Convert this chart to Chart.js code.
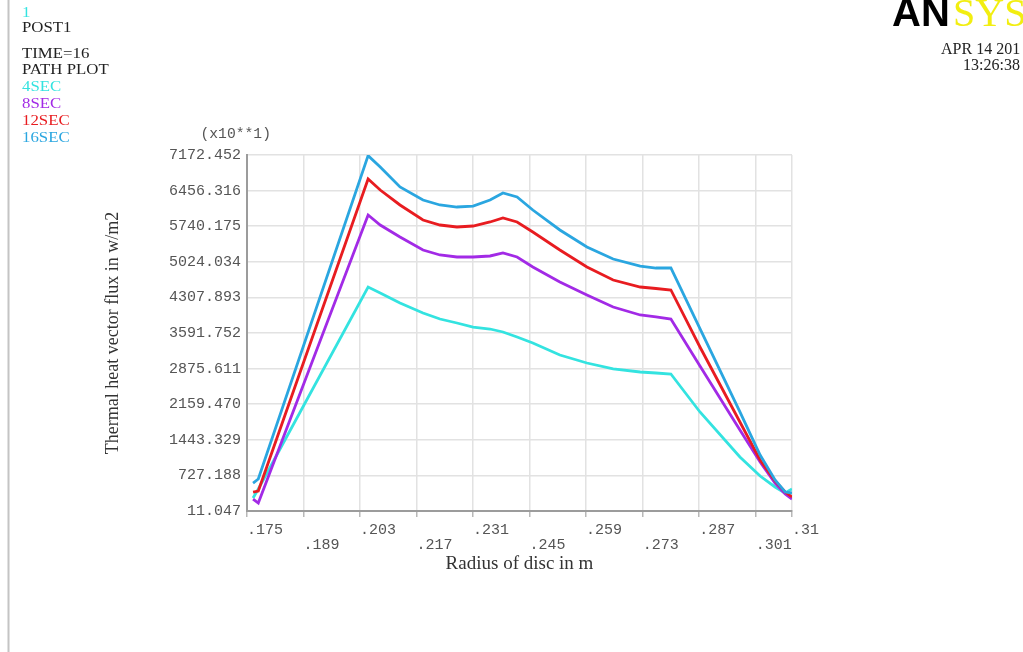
<!DOCTYPE html>
<html>
<head>
<meta charset="utf-8">
<script src="https://cdn.jsdelivr.net/npm/chart.js@4"></script>
<style>
  html, body { margin: 0; padding: 0; background: #ffffff; }
  #wrap { width: 1023px; height: 652px; }
</style>
</head>
<body>
<div id="wrap"><canvas id="c" width="1023" height="652"></canvas></div>
<script>
// Radius along the path (m)
const radius = [0.1765, 0.1778, 0.2050, 0.2080, 0.2129, 0.2186, 0.2228, 0.2270, 0.2310,
  0.2352, 0.2384, 0.2419, 0.2458, 0.2525, 0.2592, 0.2657, 0.2724, 0.2763, 0.2800,
  0.2872, 0.2971, 0.3021, 0.3058, 0.3083, 0.3100];

// Thermal heat vector flux (x10 W/m2) at each time step
const sec4 = [273, 454, 4517, 4396, 4195, 3994, 3873, 3793, 3712, 3672, 3612, 3511,
  3391, 3149, 2988, 2868, 2807, 2787, 2767, 2003, 1097, 715, 494, 373, 454];
const sec8 = [252, 172, 5965, 5764, 5523, 5261, 5161, 5121, 5121, 5141, 5201, 5121,
  4919, 4618, 4356, 4115, 3954, 3914, 3873, 2928, 1640, 997, 574, 353, 252];
const sec12 = [393, 413, 6690, 6468, 6167, 5865, 5764, 5724, 5744, 5825, 5905, 5825,
  5623, 5261, 4919, 4658, 4517, 4487, 4457, 3310, 1801, 1037, 615, 393, 293];
const sec16 = [574, 655, 7160, 6931, 6529, 6267, 6167, 6126, 6146, 6267, 6408, 6327,
  6066, 5664, 5322, 5080, 4939, 4899, 4899, 3680, 2003, 1138, 635, 393, 373];

const seriesNames = ['4SEC', '8SEC', '12SEC', '16SEC'];
const seriesColors = ['#33e3e0', '#a22ae6', '#e81c20', '#2aa6e0'];

// Axis ticks
const xTickValues = [0.175, 0.189, 0.203, 0.217, 0.231, 0.245, 0.259, 0.273, 0.287, 0.301, 0.31];
const xTickLabels = ['.175', '.189', '.203', '.217', '.231', '.245', '.259', '.273', '.287', '.301', '.31'];
const yTickValues = [11.047, 727.188, 1443.329, 2159.470, 2875.611, 3591.752, 4307.893,
  5024.034, 5740.175, 6456.316, 7172.452];
const yTickLabels = ['11.047', '727.188', '1443.329', '2159.470', '2875.611', '3591.752',
  '4307.893', '5024.034', '5740.175', '6456.316', '7172.452'];

const headerLines = [
  { text: 'POST1', color: '#222222', y: 28 },
  { text: 'TIME=16', color: '#222222', y: 54 },
  { text: 'PATH PLOT', color: '#222222', y: 70 },
  { text: seriesNames[0], color: seriesColors[0], y: 87 },
  { text: seriesNames[1], color: seriesColors[1], y: 104 },
  { text: seriesNames[2], color: seriesColors[2], y: 121 },
  { text: seriesNames[3], color: seriesColors[3], y: 138 }
];

const seriesValues = [sec4, sec8, sec12, sec16];
const datasets = seriesValues.map((vals, i) => ({
  label: seriesNames[i],
  data: radius.map((r, j) => ({ x: r, y: vals[j] })),
  borderColor: seriesColors[i],
  backgroundColor: seriesColors[i],
  borderWidth: 2.8,
  pointRadius: 0,
  tension: 0,
  fill: false,
  order: 3 - i
}));

function stretchedText(ctx, text, x, y, sx, align) {
  ctx.save();
  ctx.translate(x, y);
  ctx.scale(sx, 1);
  ctx.textAlign = align || 'left';
  ctx.fillText(text, 0, 0);
  ctx.restore();
}

const annotations = {
  id: 'annotations',
  afterDraw(chart) {
    const ctx = chart.ctx;
    const area = chart.chartArea;
    ctx.save();
    // frame line on the left
    ctx.strokeStyle = '#c4c4c4';
    ctx.lineWidth = 2;
    ctx.beginPath();
    ctx.moveTo(8.5, 0);
    ctx.lineTo(8.5, 652);
    ctx.stroke();

    ctx.textBaseline = 'middle';
    ctx.font = '15px "Liberation Serif", "Times New Roman", serif';
    ctx.fillStyle = seriesColors[0];
    stretchedText(ctx, '1', 22, 13, 1.12);
    headerLines.forEach(l => {
      ctx.fillStyle = l.color;
      stretchedText(ctx, l.text, 22, l.y, 1.12);
    });

    // logo
    ctx.textBaseline = 'alphabetic';
    ctx.font = 'bold 40px "Liberation Sans", Arial, sans-serif';
    ctx.fillStyle = '#000000';
    stretchedText(ctx, 'AN', 892, 26, 1.0);
    ctx.font = '40px "Liberation Serif", serif';
    ctx.fillStyle = '#f2ee10';
    stretchedText(ctx, 'SYS', 953, 26, 1.0);

    // date and time
    ctx.textBaseline = 'middle';
    ctx.font = '16px "Liberation Serif", serif';
    ctx.fillStyle = '#222222';
    stretchedText(ctx, 'APR 14 201', 941, 50, 1.0);
    stretchedText(ctx, '13:26:38', 1020, 66, 1.0, 'right');

    // multiplier above the value axis
    ctx.font = '14px "Liberation Mono", "Courier New", monospace';
    ctx.fillStyle = '#555555';
    stretchedText(ctx, '(x10**1)', area.left + 24, area.top - 21, 1.05, 'right');
    ctx.restore();
  }
};

new Chart(document.getElementById('c'), {
  type: 'line',
  data: { datasets },
  options: {
    responsive: false,
    animation: false,
    devicePixelRatio: 1,
    layout: { padding: { left: 100, right: 231, top: 155, bottom: 77 } },
    plugins: { legend: { display: false }, tooltip: { enabled: false } },
    scales: {
      x: {
        type: 'linear',
        min: 0.175,
        max: 0.31,
        afterBuildTicks: s => { s.ticks = xTickValues.map(v => ({ value: v })); },
        afterFit: s => { s.height = 64; s.paddingLeft = 0; s.paddingRight = 0; },
        grid: { color: '#e2e2e2', lineWidth: 1.5, drawTicks: true, tickLength: 6, tickColor: '#b8b8b8' },
        border: { display: true, color: '#9c9c9c', width: 2 },
        ticks: {
          autoSkip: false,
          maxRotation: 0,
          align: 'start',
          padding: 6,
          color: '#555555',
          font: { family: '"Liberation Mono", "Courier New", monospace', size: 15, lineHeight: 1 },
          callback: (v, i) => (i % 2 === 0 ? [xTickLabels[i]] : ['', xTickLabels[i]])
        },
        title: {
          display: true,
          text: 'Radius of disc in m',
          color: '#333333',
          padding: { top: 0, bottom: 0 },
          font: { family: '"Liberation Serif", "Times New Roman", serif', size: 19 }
        }
      },
      y: {
        type: 'linear',
        min: 11.047,
        max: 7172.452,
        afterBuildTicks: s => { s.ticks = yTickValues.map(v => ({ value: v })); },
        afterFit: s => { s.width = 147; },
        grid: { color: '#e2e2e2', lineWidth: 1.5, drawTicks: false },
        border: { display: true, color: '#9c9c9c', width: 2 },
        ticks: {
          autoSkip: false,
          padding: 6,
          color: '#555555',
          font: { family: '"Liberation Mono", "Courier New", monospace', size: 15 },
          callback: (v, i) => yTickLabels[i]
        },
        title: {
          display: true,
          text: 'Thermal heat vector flux in w/m2',
          color: '#333333',
          padding: { top: 2, bottom: 0 },
          font: { family: '"Liberation Serif", "Times New Roman", serif', size: 18 }
        }
      }
    }
  },
  plugins: [annotations]
});
</script>
</body>
</html>
